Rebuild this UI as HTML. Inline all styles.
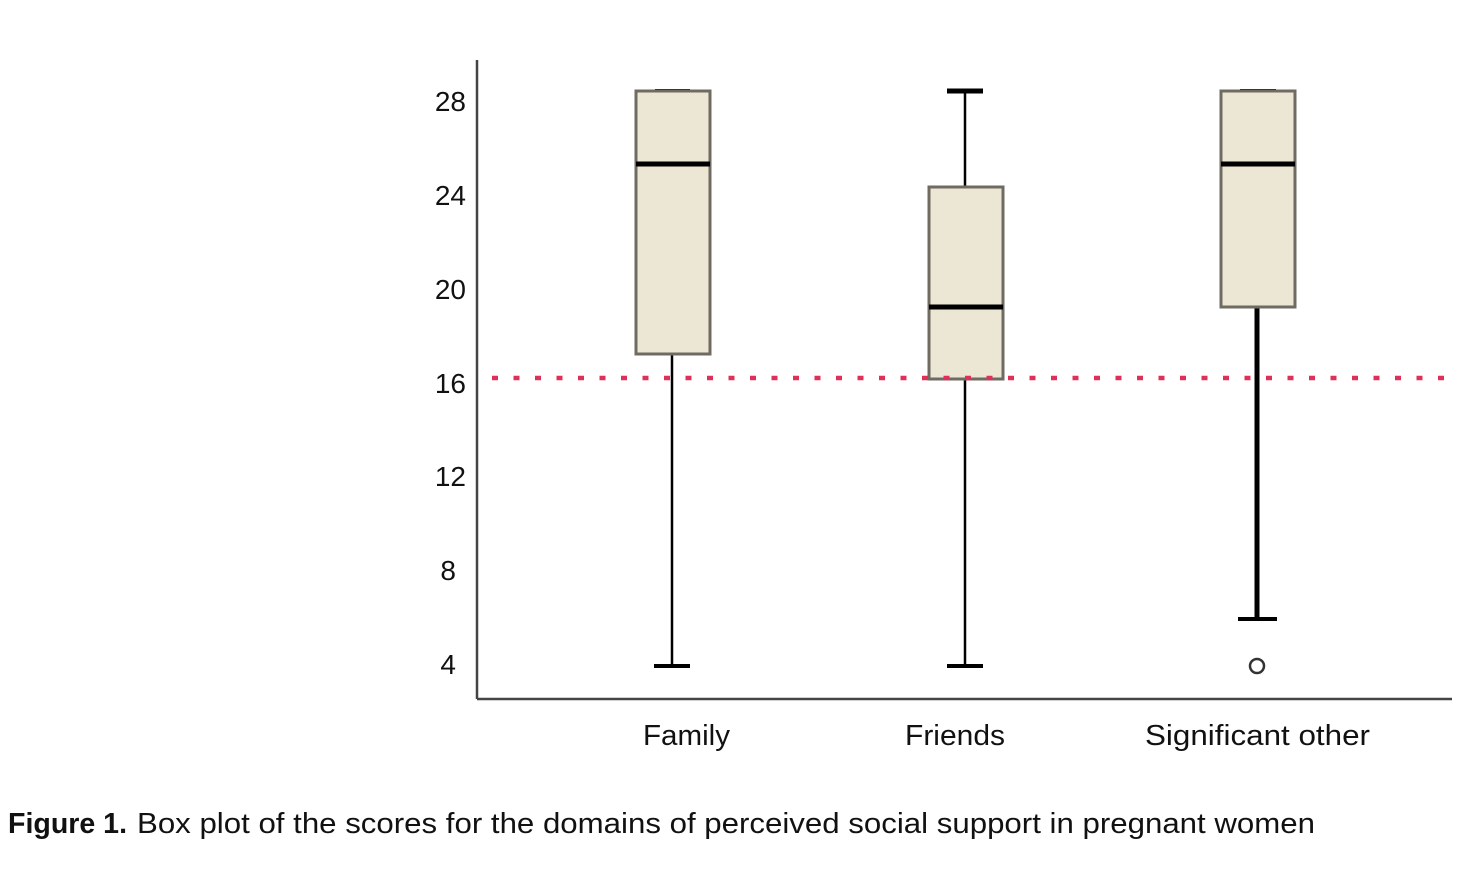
<!DOCTYPE html>
<html><head><style>
body{margin:0;background:#fff;width:1483px;height:871px;overflow:hidden}
svg{display:block}
text{font-family:"Liberation Sans",sans-serif;fill:#111}
</style></head><body>
<svg width="1483" height="871" viewBox="0 0 1483 871">
<g stroke="#444" stroke-width="2.5" fill="none">
<line x1="477" y1="60" x2="477" y2="699"/>
<line x1="477" y1="699" x2="1452" y2="699"/>
</g>
<g font-size="28" text-anchor="end">
<text x="466" y="111">28</text>
<text x="466" y="205">24</text>
<text x="466" y="299">20</text>
<text x="466" y="393">16</text>
<text x="466" y="486">12</text>
<text x="456" y="580">8</text>
<text x="456" y="674">4</text>
</g>
<!-- Family -->
<line x1="672" y1="355" x2="672" y2="666" stroke="#000" stroke-width="2.5"/>
<line x1="654" y1="666" x2="690" y2="666" stroke="#000" stroke-width="4"/>
<line x1="655" y1="90" x2="690" y2="90" stroke="#000" stroke-width="2"/>
<rect x="636" y="91" width="74" height="263" fill="#ece6d4" stroke="#6f6b62" stroke-width="3"/>
<line x1="636" y1="164" x2="710" y2="164" stroke="#000" stroke-width="5"/>
<!-- Friends -->
<line x1="965" y1="91" x2="965" y2="187" stroke="#000" stroke-width="2.5"/>
<line x1="947" y1="91" x2="983" y2="91" stroke="#000" stroke-width="5"/>
<line x1="965" y1="379" x2="965" y2="666" stroke="#000" stroke-width="2.5"/>
<line x1="947" y1="666" x2="983" y2="666" stroke="#000" stroke-width="4"/>
<rect x="929" y="187" width="74" height="192" fill="#ece6d4" stroke="#6f6b62" stroke-width="3"/>
<line x1="929" y1="307" x2="1003" y2="307" stroke="#000" stroke-width="5"/>
<!-- Significant other -->
<line x1="1257" y1="307" x2="1257" y2="619" stroke="#000" stroke-width="5"/>
<line x1="1238" y1="619" x2="1277" y2="619" stroke="#000" stroke-width="4"/>
<line x1="1240" y1="90" x2="1276" y2="90" stroke="#000" stroke-width="2"/>
<rect x="1221" y="91" width="74" height="216" fill="#ece6d4" stroke="#6f6b62" stroke-width="3"/>
<line x1="1221" y1="164" x2="1295" y2="164" stroke="#000" stroke-width="5"/>
<circle cx="1257" cy="666" r="7" fill="#fff" stroke="#333" stroke-width="2.5"/>
<!-- cutoff -->
<line x1="492" y1="378" x2="1452" y2="378" stroke="#e0305a" stroke-width="4.5" stroke-dasharray="6 15.5"/>
<g font-size="29">
<text x="643" y="745" textLength="87" lengthAdjust="spacingAndGlyphs">Family</text>
<text x="905" y="745" textLength="100" lengthAdjust="spacingAndGlyphs">Friends</text>
<text x="1145" y="745" textLength="225" lengthAdjust="spacingAndGlyphs">Significant other</text>
</g>
<text x="8" y="833" font-size="29" font-weight="bold" textLength="119" lengthAdjust="spacingAndGlyphs">Figure 1.</text>
<text x="137" y="833" font-size="29" textLength="1178" lengthAdjust="spacingAndGlyphs">Box plot of the scores for the domains of perceived social support in pregnant women</text>
</svg>
</body></html>
